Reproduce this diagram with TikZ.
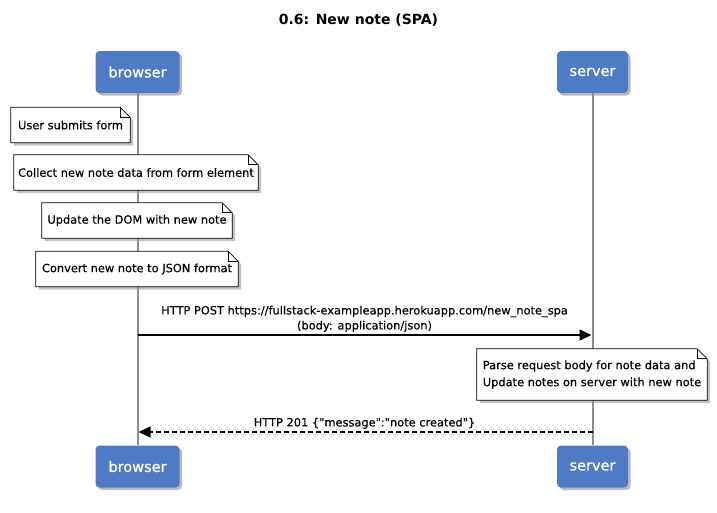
\documentclass[tikz,border=0pt]{standalone}
\usepackage{fontspec}
\setmainfont{DejaVu Sans}
\usetikzlibrary{arrows.meta,shadows,calc}
\pgfdeclarelayer{lines}
\pgfdeclarelayer{notebg}
\pgfsetlayers{lines,notebg,main}
\definecolor{actorblue}{RGB}{79,122,198}
\definecolor{lifegray}{RGB}{140,140,140}
\newfontfamily\actorfont[FakeBold=0.9]{DejaVu Sans}
\newfontfamily\notefont[FakeBold=0.35]{DejaVu Sans}
\tikzset{
  actor/.style={rectangle, rounded corners=4pt, fill=actorblue, text=white,
    font=\actorfont\fontsize{14.5}{17}\selectfont, minimum height=42pt, inner sep=0pt,
    drop shadow={shadow xshift=2.5pt, shadow yshift=-2.5pt, fill=black!45, opacity=0.6}},
  notetext/.style={rectangle, inner sep=0pt, minimum height=35pt,
    font=\notefont\fontsize{11.4}{17}\selectfont},
  notebody/.style={draw=black, line width=0.8pt, fill=white,
    drop shadow={shadow xshift=3pt, shadow yshift=-3pt, fill=black!40, opacity=0.6}},
  lifeline/.style={draw=lifegray, line width=2pt},
  msg/.style={line width=1.5pt, -{Triangle[length=12pt,width=11pt]}},
  reply/.style={msg, dash pattern=on 5pt off 3pt},
  msglabel/.style={font=\notefont\fontsize{11.4}{15}\selectfont, align=center, inner sep=0pt},
  titletext/.style={font=\bfseries\fontsize{14}{17}\selectfont}
}
\newcommand\notefold[1]{%
  \begin{pgfonlayer}{notebg}
    \path[notebody] (#1.north west) -- ([shift={(-10,0)}]#1.north east)
      -- ([shift={(0,10)}]#1.north east) -- (#1.south east) -- (#1.south west) -- cycle;
    \draw[line width=0.8pt] ([shift={(-10,0)}]#1.north east) |- ([shift={(0,10)}]#1.north east);
  \end{pgfonlayer}}
\begin{document}
\begin{tikzpicture}[x=1pt,y=-1pt]
\useasboundingbox (0,0) rectangle (717,512);
\node[titletext] (title) at (358.5,20) {0.6: New note (SPA)};
% actors
\node[actor, minimum width=84pt] (bt) at (137.5,72) {browser};
\node[actor, minimum width=71pt] (st) at (592.5,72) {server};
\node[actor, minimum width=84pt] (bb) at (137.5,466.5) {browser};
\node[actor, minimum width=71pt] (sb) at (592.5,466.5) {server};
\begin{pgfonlayer}{lines}
  \draw[lifeline] (bt) -- (bb);
  \draw[lifeline] (st) -- (sb);
\end{pgfonlayer}
% notes
\node[notetext, minimum width=119pt] (n1) at (70.5,125) {User submits form};
\node[notetext, minimum width=244pt] (n2) at (136,172.5) {Collect new note data from form element};
\node[notetext, minimum width=190pt] (n3) at (137,220.5) {Update the DOM with new note};
\node[notetext, minimum width=202pt] (n4) at (137,269) {Convert new note to JSON format};
\node[notetext, minimum width=230pt, minimum height=51pt, align=left] (n5) at (592,374.5)
  {Parse request body for note data and\\Update notes on server with new note};
\notefold{n1}\notefold{n2}\notefold{n3}\notefold{n4}\notefold{n5}
% messages
\coordinate (m1s) at (137.5,335);
\coordinate (m1e) at (591.5,335);
\draw[msg] (m1s) -- (m1e);
\node[msglabel, anchor=south] (l1) at (364.5,332)
  {HTTP POST https://fullstack-exampleapp.herokuapp.com/new\_note\_spa\\(body: application/json)};
\coordinate (m2s) at (592.5,432);
\coordinate (m2e) at (138.5,432);
\draw[reply] (m2s) -- (m2e);
\node[msglabel, anchor=south] (l2) at (364.5,429)
  {HTTP 201 \{\symbol{34}message\symbol{34}:\symbol{34}note created\symbol{34}\}};
\end{tikzpicture}
\end{document}
